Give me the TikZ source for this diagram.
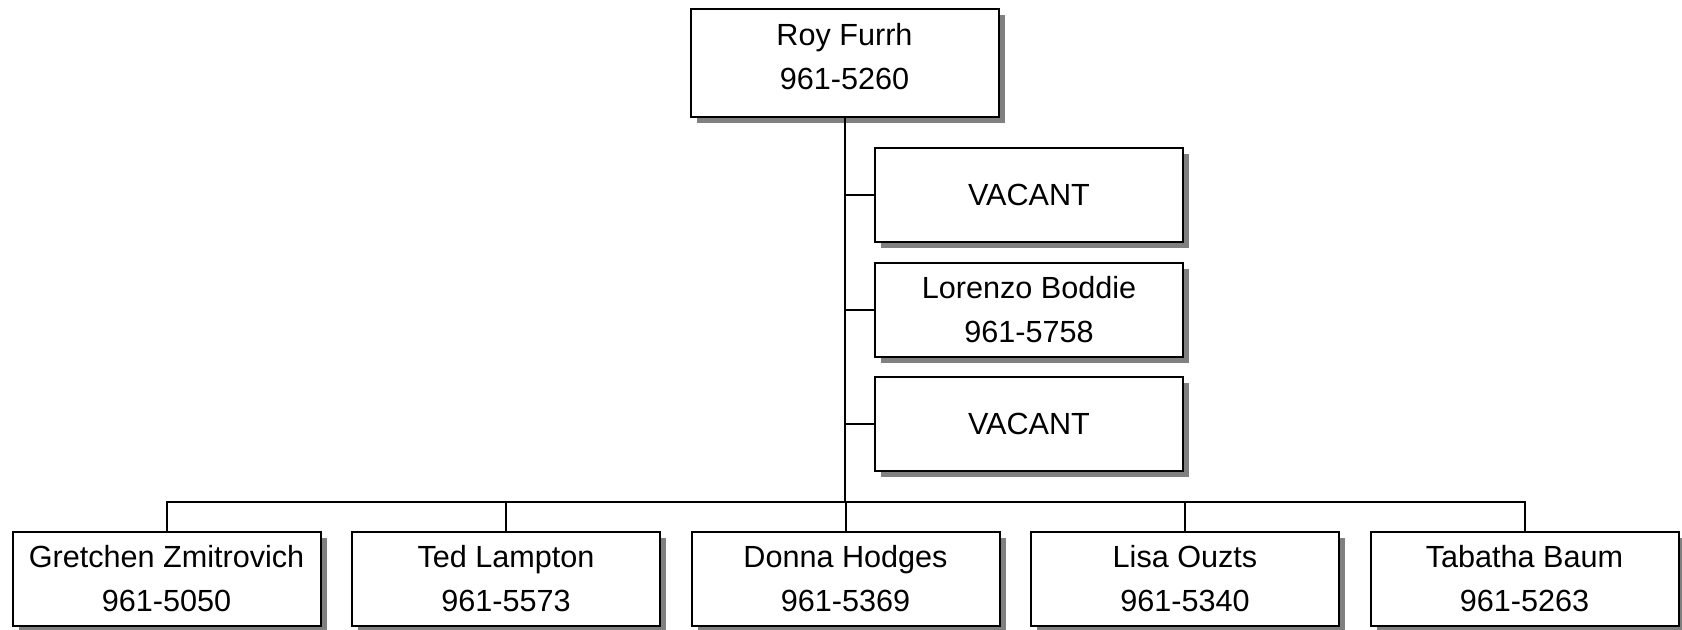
\documentclass[tikz,border=0pt]{standalone}
\usepackage{fontspec}
\setmainfont{Liberation Sans}
\usetikzlibrary{shadows}
\tikzset{
  person/.style={rectangle,draw,line width=1pt,fill=white,minimum width=154pt,minimum height=47pt,
    align=center,font=\fontsize{15.3pt}{22pt}\selectfont,
    drop shadow={shadow xshift=3pt,shadow yshift=-3pt,fill=gray,opacity=1}},
}
\begin{document}
\begin{tikzpicture}[x=0.5pt,y=-0.5pt,line width=1pt]
  \useasboundingbox (0,0) rectangle (1682,629);
  \node[person,minimum height=54pt,text depth=7pt] (boss) at (844.5,63) {Roy Furrh\\961-5260};
  \node[person] (a1) at (1029,195) {VACANT};
  \node[person] (a2) at (1029,310) {Lorenzo Boddie\\961-5758};
  \node[person] (a3) at (1029,424) {VACANT};
  \foreach \name/\num [count=\i] in {Gretchen Zmitrovich/961-5050,Ted Lampton/961-5573,
      Donna Hodges/961-5369,Lisa Ouzts/961-5340,Tabatha Baum/961-5263}
    \node[person] (c\i) at ({166.5+339.5*(\i-1)},579) {\name\\\num};
  \coordinate (bus) at (844.5,502);
  % lines
  \draw (boss.south) -- (bus);
  \draw (c1.north) |- (c5.north |- bus) -- (c5.north);
  \foreach \i in {2,3,4}
    \draw (c\i.north) -- (c\i.north |- bus);
  \foreach \i in {1,2,3}
    \draw (a\i.west) -- (a\i.west -| boss.south);
\end{tikzpicture}
\end{document}
